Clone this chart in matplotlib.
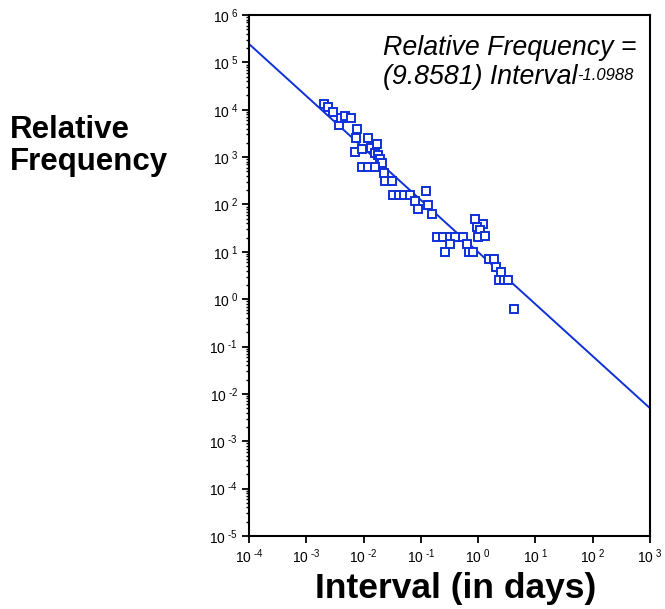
import numpy as np
import matplotlib
matplotlib.use("Agg")
import matplotlib.pyplot as plt
from matplotlib.ticker import LogLocator, FixedLocator, NullLocator

plt.rcParams['font.family'] = ['Liberation Sans', 'DejaVu Sans']
plt.rcParams['mathtext.fontset'] = 'custom'
plt.rcParams['mathtext.rm'] = 'Liberation Sans'
plt.rcParams['mathtext.it'] = 'Liberation Sans:italic'

# observed intervals (days) and their relative frequency
interval = [2.04e-3, 2.39e-3, 2.92e-3, 3.72e-3, 4.04e-3, 4.73e-3, 6.03e-3,
            7.67e-3, 7.36e-3, 1.19e-2, 7.08e-3, 9.38e-3, 1.35e-2, 1.71e-2,
            1.58e-2, 1.78e-2, 1.93e-2, 2.09e-2, 9.38e-3, 1.19e-2, 1.58e-2,
            2.27e-2, 2.36e-2, 3.13e-2, 3.26e-2, 4.15e-2, 5.07e-2, 6.46e-2,
            7.89e-2, 0.123, 8.89e-2, 0.133, 0.156, 0.191, 0.243, 0.322,
            0.394, 0.264, 0.322, 0.543, 0.638, 0.690, 0.811, 0.879, 1.21,
            0.953, 1.07, 0.993, 1.31, 1.54, 1.89, 2.05, 2.50, 2.31, 2.82,
            3.31, 4.22]
rel_freq = [1.30e4, 1.12e4, 8.81e3, 4.69e3, 6.59e3, 7.26e3, 6.59e3,
            3.86e3, 2.49e3, 2.49e3, 1.26e3, 1.46e3, 1.53e3, 1.86e3,
            1.20e3, 1.09e3, 899, 740, 609, 609, 609,
            455, 308, 308, 156, 156, 156, 156,
            117, 190, 79.2, 96.2, 62.1, 20.3, 20.3, 20.3,
            20.3, 9.82, 14.5, 20.3, 14.5, 9.82, 9.82, 48.7, 38.2,
            33.0, 28.6, 20.3, 21.3, 6.98, 6.98, 4.73, 3.71, 2.52, 2.52,
            2.52, 0.615]

# power-law fit shown on the chart
coef = 9.8581
expo = -1.0988

x_exps = [-4, -3, -2, -1, 0, 1, 2, 3]
y_exps = [-5, -4, -3, -2, -1, 0, 1, 2, 3, 4, 5, 6]

blue = '#1030d8'


def pow_label(e):
    # "10" with a spaced, raised exponent; plain hyphen instead of minus
    s = str(e).replace('-', '\u2010')
    return r'$\mathregular{10^{\ %s}}$' % s


fig = plt.figure(figsize=(6.65, 6.09), dpi=100)
ax = fig.add_axes([249/665, 1 - 536/609, 401/665, 521/609])
ax.set_xscale('log')
ax.set_yscale('log')
ax.set_xlim(10.0**x_exps[0], 10.0**x_exps[-1])
ax.set_ylim(10.0**y_exps[0], 10.0**y_exps[-1])

xfit = np.array(ax.get_xlim())
ax.plot(xfit, coef * xfit**expo, color=blue, lw=1.4, zorder=2)
ax.plot(interval, rel_freq, linestyle='none', marker='s', ms=6,
        mfc='white', mec=blue, mew=1.4, zorder=3)

ax.xaxis.set_major_locator(FixedLocator([10.0**e for e in x_exps]))
ax.yaxis.set_major_locator(FixedLocator([10.0**e for e in y_exps]))
ax.set_xticklabels([pow_label(e) for e in x_exps])
ax.set_yticklabels([pow_label(e) for e in y_exps])
ax.xaxis.set_minor_locator(NullLocator())
ax.yaxis.set_minor_locator(LogLocator(base=10, subs=np.arange(2, 10), numticks=20))
ax.tick_params(which='major', direction='out', length=5, width=1.3,
               labelsize=10, pad=3)
ax.tick_params(which='minor', direction='out', length=2, width=1)
for s in ax.spines.values():
    s.set_linewidth(1.5)

fig.text(10/665, 1 - 146/609, 'Relative\nFrequency', ha='left', va='center',
         fontsize=22.5, fontweight='bold', linespacing=1.1)
fig.text(456/665, 1 - 598/609, 'Interval (in days)', ha='center',
         va='baseline', fontsize=25.5, fontweight='bold')

fig.text(383/665, 1 - 55/609, 'Relative Frequency =', ha='left',
         va='baseline', fontsize=19.3, style='italic')
t2 = fig.text(383/665, 1 - 84/609, '(9.8581) Interval', ha='left',
              va='baseline', fontsize=19.3, style='italic')
ax.annotate('-1.0988', xy=(1.0, 0.86), xycoords=t2, ha='left', va='top',
            fontsize=12, style='italic')

fig.savefig('out.png', dpi=100)
